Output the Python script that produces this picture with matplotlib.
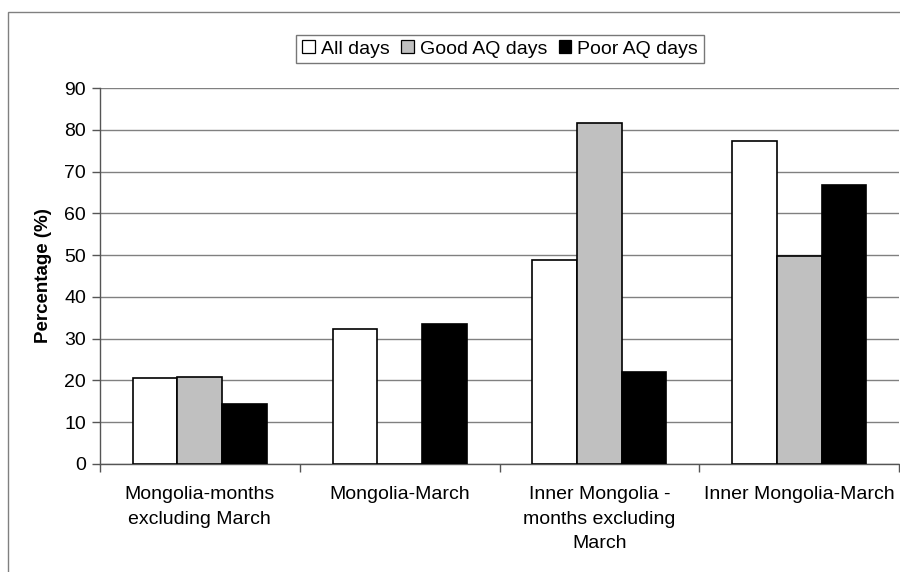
import matplotlib.pyplot as plt
import numpy as np
from matplotlib.patches import Rectangle

plt.rcParams['font.family'] = ['Liberation Sans', 'DejaVu Sans']

categories = ["Mongolia-months\nexcluding March", "Mongolia-March",
              "Inner Mongolia -\nmonths excluding\nMarch", "Inner Mongolia-March"]
all_days = [20.6, 32.3, 48.8, 77.4]
good_aq = [20.8, 0.0, 81.6, 49.8]
poor_aq = [14.3, 33.5, 22.0, 66.7]
series_names = ["All days", "Good AQ days", "Poor AQ days"]

fig = plt.figure(figsize=(9, 5.72), dpi=100)
ax = fig.add_axes([0.111, 0.189, 0.888, 0.657])

# outer chart border
fig.patches.append(Rectangle((8/900, -0.1), 1.2, 1 - 12/572 + 0.1, transform=fig.transFigure,
                             fill=False, edgecolor='#808080', linewidth=1.0))

x = np.arange(len(categories))
w = 0.2233
colors = ['white', '#c0c0c0', 'black']
for i, (vals, c, name) in enumerate(zip([all_days, good_aq, poor_aq], colors, series_names)):
    ax.bar(x + (i - 1) * w, vals, w, color=c, edgecolor='black', linewidth=1.2,
           label=name, zorder=3)

ax.set_xlim(-0.5, len(categories) - 0.5)
ax.set_ylim(0, 90)
ax.set_yticks(np.arange(0, 91, 10))
ax.yaxis.grid(True, color='#808080', linewidth=1.0, zorder=0)
ax.set_axisbelow(True)

ax.set_xticks(x)
ax.set_xticklabels(categories, fontsize=14, linespacing=1.58)
ax.set_xticks(np.arange(-0.5, len(categories)), minor=True)
ax.tick_params(axis='x', which='major', length=0, pad=16)
ax.tick_params(axis='x', which='minor', length=6, width=1, color='#555555', direction='out')
ax.tick_params(axis='y', length=6, width=1, color='#555555', labelsize=14, pad=4)

for s in ['top', 'right']:
    ax.spines[s].set_visible(False)
for s in ['left', 'bottom']:
    ax.spines[s].set_color('#555555')
    ax.spines[s].set_linewidth(1.0)

ax.set_ylabel("Percentage (%)", fontsize=13.5, fontweight='bold', labelpad=9)

leg = ax.legend(loc='center', bbox_to_anchor=(500/900, 1 - 49/572), bbox_transform=fig.transFigure,
                ncol=3, frameon=True, fancybox=False, fontsize=14, handlelength=0.65,
                handleheight=0.65, handletextpad=0.3, columnspacing=0.6, borderpad=0.3,
                edgecolor='#555555', borderaxespad=0)
leg.get_frame().set_linewidth(1.0)
for h in leg.legend_handles:
    h.set_linewidth(0.9)

fig.savefig("out.png", dpi=100, facecolor='white')
